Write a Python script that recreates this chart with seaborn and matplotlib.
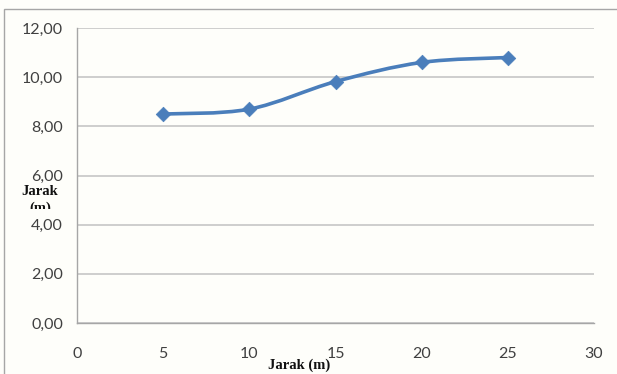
import numpy as np
import matplotlib
matplotlib.use("Agg")
import matplotlib.pyplot as plt
from matplotlib.path import Path
from matplotlib.patches import PathPatch, Rectangle
from matplotlib.transforms import Bbox
import seaborn as sns
import pandas as pd

# Measured distances
jarak_x = [5, 10, 15, 20, 25]
jarak_y = [8.50, 8.70, 9.82, 10.60, 10.80]
x_ticks = [0, 5, 10, 15, 20, 25, 30]
y_ticks = [0, 2, 4, 6, 8, 10, 12]
y_tick_labels = ["0,00", "2,00", "4,00", "6,00", "8,00", "10,00", "12,00"]

sns.set_theme(style="white")
plt.rcParams["font.family"] = ["Lato", "DejaVu Sans"]

bg = "#FEFEFA"
W, H = 617, 374
fig = plt.figure(figsize=(W / 100, H / 100), dpi=100, facecolor=bg)
ax = fig.add_axes([77 / W, 1 - 323 / H, (594 - 77) / W, (323 - 28) / H], facecolor=bg)

# chart frame (left and top edges visible)
fig.patches.append(Rectangle((3.5 / W, -0.1), 1.2, 1 - 9.5 / H + 0.1, transform=fig.transFigure,
                             fill=False, edgecolor="#A6A6A6", linewidth=1.0))

line_color = "#4A7EBB"
df = pd.DataFrame({"x": jarak_x, "y": jarak_y})

# smoothed connecting curve (cubic Bezier segments through the points)
pts = np.column_stack([jarak_x, jarak_y]).astype(float)
n = len(pts)
verts = [pts[0]]
codes = [Path.MOVETO]
for i in range(n - 1):
    p0 = pts[i - 1] if i > 0 else pts[i]
    p1, p2 = pts[i], pts[i + 1]
    p3 = pts[i + 2] if i + 2 < n else pts[i + 1]
    c1 = p1 + (p2 - p0) / 6.0
    c2 = p2 - (p3 - p1) / 6.0
    verts += [c1, c2, p2]
    codes += [Path.CURVE4] * 3
ax.add_patch(PathPatch(Path(verts, codes), fill=False, edgecolor=line_color,
                       linewidth=2.6, capstyle="round", zorder=3))

sns.scatterplot(data=df, x="x", y="y", ax=ax, marker="D", s=55, color=line_color,
                edgecolor=line_color, linewidth=0.5, zorder=4, legend=False)

ax.set_xlim(0, 30)
ax.set_ylim(0, 12)
ax.set_xticks(x_ticks)
ax.set_xticklabels([str(v) for v in x_ticks])
ax.set_yticks(y_ticks)
ax.set_yticklabels(y_tick_labels)

ax.yaxis.grid(True, color="#C6C6C6", linewidth=1.2)
ax.xaxis.grid(False)
for side in ["top", "right"]:
    ax.spines[side].set_visible(False)
for side in ["left", "bottom"]:
    ax.spines[side].set_color("#A6A6A6")
    ax.spines[side].set_linewidth(1.0)

ax.tick_params(axis="both", which="major", direction="out", length=4, width=1,
               color="#A6A6A6", labelsize=11.5, labelcolor="#404040")
ax.tick_params(axis="x", pad=13)
ax.tick_params(axis="y", pad=6)

ax.set_xlabel("")
ax.set_ylabel("")
serif = ["Liberation Serif", "DejaVu Serif"]
fig.text(299 / W, 1 - 365 / H, "Jarak (m)", ha="center", va="center",
         fontsize=10.5, fontweight="bold", family=serif, color="#111111")
fig.text(40 / W, 1 - 191 / H, "Jarak", ha="center", va="center",
         fontsize=10.5, fontweight="bold", family=serif, color="#111111")
m_txt = fig.text(40 / W, 1 - 208 / H, "(m)", ha="center", va="center",
                 fontsize=10.5, fontweight="bold", family=serif, color="#111111")
# the wrapped axis title is cut off just above the 4,00 label
m_txt.set_clip_box(Bbox.from_extents(0, H - 209, 77, H - 195))
m_txt.set_clip_on(True)

fig.savefig("out.png", dpi=100, facecolor=bg)
